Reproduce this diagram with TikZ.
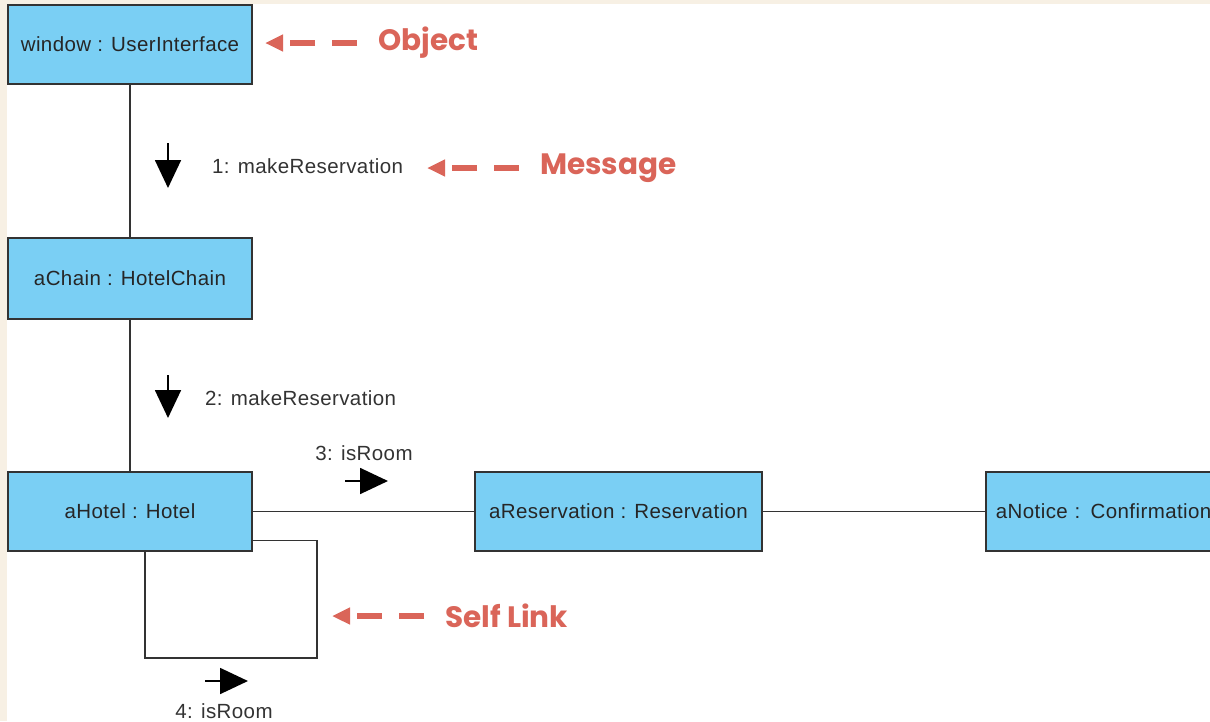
\documentclass[tikz,border=0pt]{standalone}
\usepackage{fontspec}
\setmainfont{Liberation Sans}[LetterSpace=2]
\newfontfamily\notefont{Poppins}
\usetikzlibrary{arrows.meta}
\definecolor{objfill}{RGB}{122,207,244}
\definecolor{notered}{RGB}{218,101,89}
\definecolor{paper}{RGB}{247,240,228}
\definecolor{ink}{RGB}{51,51,51}
\begin{document}
\begin{tikzpicture}[x=1pt,y=-1pt,line cap=butt,line join=miter,
        obj/.style={draw=ink,line width=1.8pt,fill=objfill,minimum width=244pt,minimum height=79pt,
            inner sep=0pt,font=\fontsize{20.5}{23}\selectfont,text=black!85},
        msg/.style={inner sep=0pt,font=\fontsize{20.5}{23}\selectfont,text=ink},
        msgarrow/.style={line width=1.8pt,-{Triangle[length=28pt,width=26pt]}},
        link/.style={draw=ink,line width=1.8pt},
        note/.style={inner sep=0pt,anchor=west,text=notered,font=\notefont\bfseries\fontsize{29.5}{32}\selectfont},
        notearrow/.style={draw=notered,line width=6.5pt,dash pattern=on 25pt off 17pt,
            -{Triangle[length=18pt,width=16pt]}}]
    \useasboundingbox (0,0) rectangle (1210,721);
    \fill[paper] (0,0) rectangle (1210,721);
    \fill[white] (7,4) rectangle (1210,721);
    % objects
    \node[obj] (win) at (130,44.5) {window : UserInterface};
    \node[obj,minimum height=81pt] (chain) at (130,278.5) {aChain : HotelChain};
    \node[obj] (hotel) at (130,511.5) {aHotel : Hotel};
    \node[obj,minimum width=287pt] (resv) at (618.5,511.5) {aReservation : Reservation};
    \node[obj,anchor=west,minimum width=0pt,text width=290pt,inner xsep=10pt,align=left] (notice) at (985,511.5) {aNotice : Confirmation};
    % links
    \draw[link] (win) -- (chain) (chain) -- (hotel);
    \draw[link] (hotel) -- (resv) (resv) -- (notice);
    \coordinate (loopR) at (317,658);
    \coordinate (loopL) at (145,658);
    \draw[link] ([yshift=-29pt]hotel.east) -| (loopR) -- (loopL) -- (loopL |- hotel.south);
    % messages
    \node[msg,anchor=west] (m1) at (212,166) {1: makeReservation};
    \node[msg,anchor=west] (m2) at (205,398) {2: makeReservation};
    \node[msg] (m3) at (364,453) {3: isRoom};
    \node[msg] (m4) at (224,711) {4: isRoom};
    \draw[msgarrow] (168,143) -- (168,188);
    \draw[msgarrow] (168,375) -- (168,418);
    \draw[msgarrow] (345,481) -- (388,481);
    \draw[msgarrow] (205,681) -- (248,681);
    % notes
    \node[note] (objnote) at (378,43) {Object};
    \node[note] (msgnote) at (540,168) {Message};
    \node[note] (selfnote) at (445,616) {Self Link};
    \foreach \n in {objnote,msgnote,selfnote}
        \draw[notearrow] ([xshift=-21pt]\n.west) -- ++(-92,0);
\end{tikzpicture}
\end{document}
